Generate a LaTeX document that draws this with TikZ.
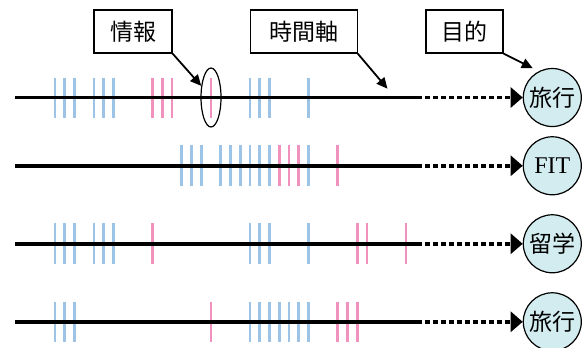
\documentclass[tikz,border=0pt]{standalone}
\usepackage{fontspec}
\setmainfont{Liberation Serif}
\newfontfamily\jpfont{Noto Sans CJK JP}
\usepackage{tikz}
\usetikzlibrary{arrows.meta,shapes,positioning}
\definecolor{infoblue}{RGB}{157,195,230}
\definecolor{infopink}{RGB}{240,145,190}
\definecolor{goalcyan}{RGB}{210,236,240}

\begin{document}
\begin{tikzpicture}[x=9.75pt, y=-9.75pt,
    namebox/.style={draw, line width=1.2pt, minimum height=43pt, inner sep=0pt, font=\jpfont\fontsize{23}{27}\selectfont},
    goal/.style={circle, draw, line width=1.2pt, fill=goalcyan, minimum size=58pt, inner sep=0pt, font=\jpfont\fontsize{23}{27}\selectfont},
    pointer/.style={line width=1.8pt, -{Triangle[length=11pt,width=10pt]}},
    axis/.style={line width=3.8pt},
    lead/.style={line width=3.8pt, dash pattern=on 5pt off 3pt, -{Triangle[length=12pt,width=20pt]}},
    tick/.style={line width=2.8pt}]
    \useasboundingbox (-5.64,0) rectangle (54.15,35.59);
    % ticks
    \foreach \x in {0,1,2,4,5,6,20,21,22,26} { \draw[tick,infoblue] (\x,7.95) -- (\x,12.05); }
    \foreach \x in {10,11,12,16} { \draw[tick,infopink] (\x,7.95) -- (\x,12.05); }
    \foreach \x in {13,14,15,17,18,19,20,21,22,26} { \draw[tick,infoblue] (\x,14.9) -- (\x,19.1); }
    \foreach \x in {23,24,25,29} { \draw[tick,infopink] (\x,14.9) -- (\x,19.1); }
    \foreach \x in {0,1,2,4,5,6,20,21,22,26} { \draw[tick,infoblue] (\x,22.9) -- (\x,27.1); }
    \foreach \x in {10,31,32,36} { \draw[tick,infopink] (\x,22.9) -- (\x,27.1); }
    \foreach \x in {0,1,2,20,21,22,23,24,25,26} { \draw[tick,infoblue] (\x,30.95) -- (\x,35.05); }
    \foreach \x in {16,29,30,31} { \draw[tick,infopink] (\x,30.95) -- (\x,35.05); }
    % goals and time axes
    \node[goal] (trip) at (51,10) {旅行};
    \node[goal, font=\fontsize{24}{28}\selectfont] (fit) at (51,17) {FIT};
    \node[goal] (study) at (51,25) {留学};
    \node[goal] (tour) at (51,33) {旅行};
    \foreach \y/\g in {10/trip, 17/fit, 25/study, 33/tour} {
      \draw[axis] (-4.1,\y) coordinate (s\g) -- (37.1,\y) coordinate (e\g);
      \draw[lead] (e\g) -- (\g);
    }
    \node[draw, ellipse, line width=1.2pt, minimum width=20pt, minimum height=59pt, inner sep=0pt] (pick) at (16,10) {};
    % labels
    \node[namebox, minimum width=78pt] (info) at (8,3.23) {情報};
    \node[namebox, minimum width=107pt] (axisname) at (25.5,3.23) {時間軸};
    \node[namebox, minimum width=77pt] (goalname) at (42,3.23) {目的};
    \coordinate (axistip) at (34.1,9.1);
    \coordinate (goaltip) at (49,7);
    \draw[pointer] (info.south east) -- (pick.130);
    \draw[pointer] (axisname.south east) -- (axistip);
    \draw[pointer] (goalname.south east) -- (goaltip);
\end{tikzpicture}
\end{document}
